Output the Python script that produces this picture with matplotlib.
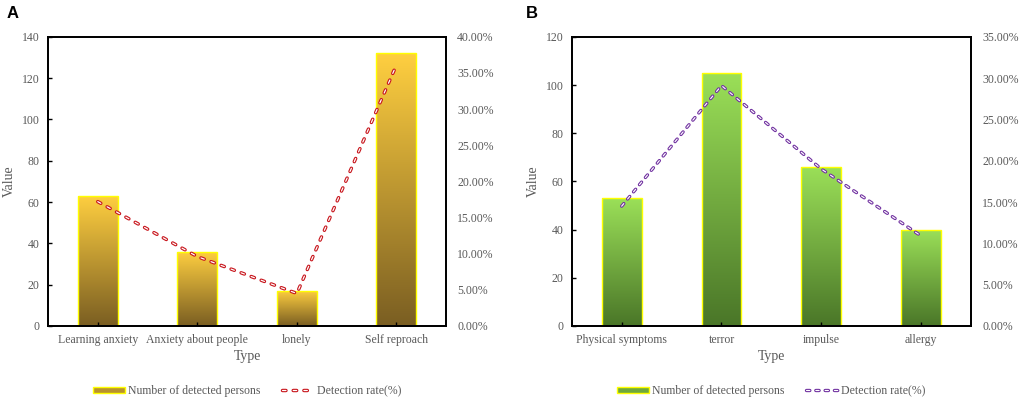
import matplotlib
matplotlib.use('Agg')
import matplotlib.pyplot as plt
import numpy as np
from matplotlib.colors import LinearSegmentedColormap
from matplotlib.lines import Line2D
from matplotlib.patches import Patch
from matplotlib.legend_handler import HandlerTuple
from matplotlib.ticker import PercentFormatter

plt.rcParams['font.family'] = ['Liberation Serif', 'DejaVu Serif']
plt.rcParams['lines.scale_dashes'] = False

# Panel A data
types_a = ['Learning anxiety', 'Anxiety about people', 'lonely', 'Self reproach']
counts_a = [63, 36, 17, 132]
rates_a = [17.2, 9.6, 4.5, 36.1]

# Panel B data
types_b = ['Physical symptoms', 'terror', 'impulse', 'allergy']
counts_b = [53, 105, 66, 40]
rates_b = [14.5, 29.1, 19.0, 10.9]

grey = '#595959'


def gradient_bars(ax, bars, top_color, bottom_color):
    cmap = LinearSegmentedColormap.from_list('g', [bottom_color, top_color])
    grad = np.linspace(0, 1, 256).reshape(-1, 1)
    for b in bars:
        x, y = b.get_x(), b.get_y()
        w, h = b.get_width(), b.get_height()
        im = ax.imshow(grad, cmap=cmap, origin='lower', aspect='auto',
                       extent=[x, x + w, y, y + h], zorder=1.5)
        im.set_clip_path(b)
        b.set_facecolor('none')


def panel(ax, letter, letter_x, types, counts, rates, ymax, ystep, rmax, rstep,
          top_color, bottom_color, line_color, lw, dash, legend_face):
    x = np.arange(len(types))
    bars = ax.bar(x, counts, width=0.4, edgecolor='#FFFF00', linewidth=1.0,
                  zorder=2)
    gradient_bars(ax, bars, top_color, bottom_color)
    ax.set_xlim(-0.5, len(types) - 0.5)
    ax.set_ylim(0, ymax)
    ax.set_yticks(np.arange(0, ymax + 1, ystep))
    ax.set_xticks(x)
    ax.set_xticklabels(types)
    ax.tick_params(direction='in', length=3, width=1, colors='black',
                   labelcolor=grey, labelsize=8.5, pad=6)
    for s in ax.spines.values():
        s.set_linewidth(1.3)
    ax.set_xlabel('Type', color=grey, fontsize=10, labelpad=3)
    ax.set_ylabel('Value', color=grey, fontsize=10, labelpad=4)

    # double-line dashed rate curve: coloured capsule with white core
    ax2 = ax.twinx()
    r = np.array(rates) / 100
    ax2.plot(x, r, color=line_color, lw=lw, linestyle=(0, dash),
             dash_capstyle='round', zorder=3)
    ax2.plot(x, r, color='white', lw=lw * 0.35, linestyle=(0, dash),
             dash_capstyle='round', zorder=4)
    ax2.set_ylim(0, rmax)
    ax2.set_yticks(np.arange(0, rmax + 1e-9, rstep))
    ax2.yaxis.set_major_formatter(PercentFormatter(1.0, decimals=2))
    ax2.tick_params(length=0, labelcolor=grey, labelsize=8.5, pad=8)
    for s in ax2.spines.values():
        s.set_linewidth(1.3)

    h_bar = Patch(facecolor=legend_face, edgecolor='#FFFF00', linewidth=1.0)
    h_out = Line2D([], [], color=line_color, lw=lw, linestyle=(0, dash),
                   dash_capstyle='round')
    h_in = Line2D([], [], color='white', lw=lw * 0.35, linestyle=(0, dash),
                  dash_capstyle='round')
    ax.legend([h_bar, (h_out, h_in)],
              ['Number of detected persons', 'Detection rate(%)'],
              handler_map={tuple: HandlerTuple(ndivide=1, pad=0)},
              loc='center', bbox_to_anchor=(0.5, -0.225), ncol=2,
              frameon=False, fontsize=8.5, labelcolor=grey,
              columnspacing=1.8, handlelength=2.7, handleheight=0.45,
              handletextpad=0.3)
    fig.text(letter_x, 0.968, letter, fontsize=12, fontweight='bold',
             family='Liberation Sans', va='center', ha='left')


fig = plt.figure(figsize=(10.21, 4.09), dpi=100)
ax_a = fig.add_axes([0.047, 0.203, 0.390, 0.707])
ax_b = fig.add_axes([0.560, 0.203, 0.391, 0.707])

panel(ax_a, 'A', 0.006, types_a, counts_a, rates_a, 140, 20, 0.40, 0.05,
      '#FFCF40', '#7A5E22', '#C8161D', 2.5, (2.5, 5.2), '#B8922E')
panel(ax_b, 'B', 0.515, types_b, counts_b, rates_b, 120, 20, 0.35, 0.05,
      '#9BE058', '#4A7628', '#7030A0', 2.4, (2.4, 4.3), '#6FA83C')

fig.savefig('out.png', dpi=100)
